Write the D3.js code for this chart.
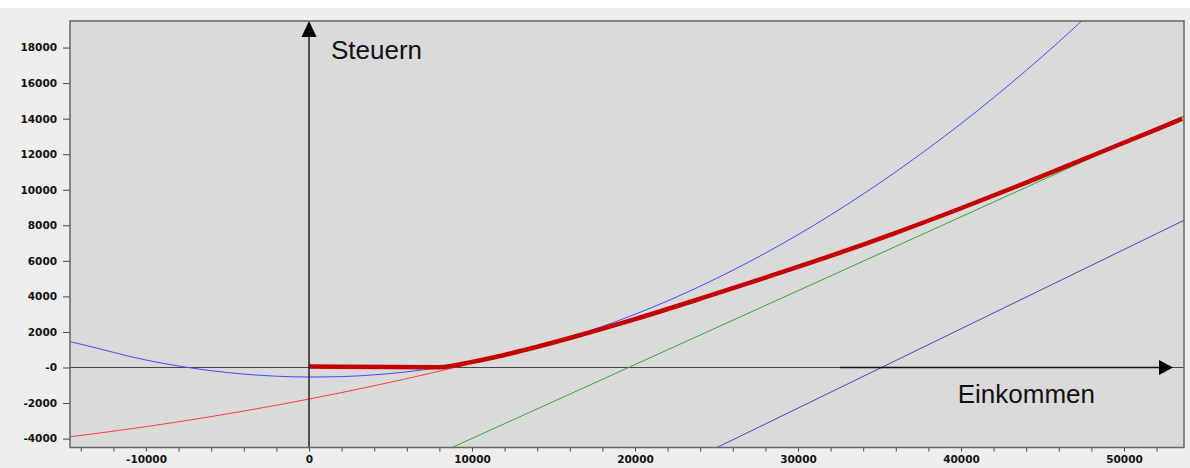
<!DOCTYPE html>
<html>
<head>
<meta charset="utf-8">
<title>Steuern / Einkommen</title>
<style>
    body {
        margin: 0;
        padding: 0;
        background-color: #ffffff;
        overflow: hidden;
    }
    svg {
        display: block;
    }
    .tick text {
        font-family: "DejaVu Sans", Verdana, sans-serif;
        font-weight: bold;
        font-size: 10.5px;
        fill: #111111;
    }
    .tick line {
        stroke: #444444;
    }
    .label {
        font-family: "Liberation Sans", Arial, sans-serif;
        font-size: 26px;
        fill: #111111;
    }
</style>
</head>
<body>
<div id="container"></div>

<script src="https://d3js.org/d3.v7.min.js"></script>
<script>
    // ---- data (Einkommen, Steuern) ----
    var xDomain = [-14663, 53681];
    var yDomain = [-4501, 19494];

    var xTicks = [-14000, -12000, -10000, -8000, -6000, -4000, -2000, 0, 2000, 4000, 6000, 8000,
        10000, 12000, 14000, 16000, 18000, 20000, 22000, 24000, 26000, 28000, 30000, 32000,
        34000, 36000, 38000, 40000, 42000, 44000, 46000, 48000, 50000, 52000];
    var xLabels = [-10000, 0, 10000, 20000, 30000, 40000, 50000];
    var yTicks = [18000, 16000, 14000, 12000, 10000, 8000, 6000, 4000, 2000, 0, -2000, -4000];
    var yTickLabels = ["18000", "16000", "14000", "12000", "10000", "8000", "6000", "4000", "2000", "-0", "-2000", "-4000"];

    // thin blue parabola
    var blueCurve = [[-14663, 1450], [-14000, 1310], [-10000, 420], [-6000, -180], [-2000, -490],
        [0, -536], [2000, -512], [4000, -414], [6000, -244], [8000, 0], [10000, 316], [14000, 1167],
        [18000, 2311], [22000, 3746], [26000, 5470], [30000, 7470], [34000, 9760], [38000, 12330],
        [42000, 15180], [46000, 18320], [48000, 20000]];

    // thin red parabola
    var redCurve = [[-14663, -3900], [-10000, -3328], [-6000, -2762], [-2000, -2123], [0, -1775],
        [4000, -1027], [8000, -205], [12000, 691], [16000, 1659], [20000, 2701], [24000, 3816],
        [28000, 5004], [32000, 6265], [36000, 7600], [40000, 8990], [44000, 10440], [48000, 11960],
        [52000, 13460], [53681, 14080]];

    // straight lines
    var greenLine = [[8773, -4501], [53681, 14160]];
    var purpleLine = [[25031, -4501], [53681, 8280]];

    // thick red: actual tax
    var taxCurve = [[0, 60], [8004, 20], [10000, 316], [12000, 705], [13469, 1038], [16000, 1659],
        [20000, 2720], [24000, 3870], [28000, 5060], [32000, 6280], [36000, 7580], [40000, 8960],
        [44000, 10400], [48000, 11900], [52000, 13400], [53560, 13990]];

    // axis arrows
    var xArrow = [32577, 53006];
    var yArrow = [-4501, 19494];

    // ---- layout ----
    var width = 1190, height = 468;
    var margin = { top: 21, right: 6, bottom: 20.5, left: 70 };
    var plotW = width - margin.left - margin.right;
    var plotH = height - margin.top - margin.bottom;

    var svg = d3.select("div#container")
        .append("svg")
        .attr("width", width)
        .attr("height", height);

    svg.append("rect")
        .attr("x", 0)
        .attr("y", 8)
        .attr("width", width)
        .attr("height", height - 8)
        .style("fill", "#eeeeee");

    var g = svg.append("g")
        .attr("transform", "translate(" + margin.left + "," + margin.top + ")");

    var x = d3.scaleLinear().domain(xDomain).range([0, plotW]);
    var y = d3.scaleLinear().domain(yDomain).range([plotH, 0]);

    g.append("rect")
        .attr("width", plotW)
        .attr("height", plotH)
        .style("fill", "#dadada");

    g.append("clipPath")
        .attr("id", "clip")
        .append("rect")
        .attr("width", plotW)
        .attr("height", plotH);

    // axes
    var yAxis = d3.axisLeft(y)
        .tickValues(yTicks)
        .tickFormat(function (d, i) { return yTickLabels[i]; })
        .tickSize(7)
        .tickPadding(6);
    g.append("g").call(yAxis).call(function (s) { s.select(".domain").remove(); });

    var xAxis = d3.axisBottom(x)
        .tickValues(xTicks)
        .tickFormat(function (d) { return xLabels.indexOf(d) >= 0 ? String(d) : ""; })
        .tickSize(4)
        .tickPadding(4);
    g.append("g")
        .attr("transform", "translate(0," + plotH + ")")
        .call(xAxis)
        .call(function (s) { s.select(".domain").remove(); });

    // zero line
    g.append("line")
        .attr("x1", 0).attr("x2", plotW)
        .attr("y1", y(0)).attr("y2", y(0))
        .style("stroke", "#444444")
        .style("stroke-width", 1);

    var line = d3.line()
        .x(function (d) { return x(d[0]); })
        .y(function (d) { return y(d[1]); })
        .curve(d3.curveMonotoneX);

    var curves = g.append("g").attr("clip-path", "url(#clip)");

    curves.append("path").datum(blueCurve).attr("d", line)
        .style("fill", "none").style("stroke", "#4646ff").style("stroke-width", 1);
    curves.append("path").datum(redCurve).attr("d", line)
        .style("fill", "none").style("stroke", "#ff3a3a").style("stroke-width", 1);
    curves.append("path").datum(greenLine).attr("d", line)
        .style("fill", "none").style("stroke", "#3f9f3f").style("stroke-width", 1);
    curves.append("path").datum(purpleLine).attr("d", line)
        .style("fill", "none").style("stroke", "#4b43b5").style("stroke-width", 1);

    // vertical axis arrow
    g.append("line")
        .attr("x1", x(0)).attr("x2", x(0))
        .attr("y1", y(yArrow[0])).attr("y2", y(yArrow[1]) + 10)
        .style("stroke", "#222222")
        .style("stroke-width", 1.5);
    g.append("path")
        .attr("d", "M" + x(0) + "," + y(yArrow[1]) +
            "L" + (x(0) + 7.5) + "," + (y(yArrow[1]) + 16) +
            "L" + (x(0) - 7.5) + "," + (y(yArrow[1]) + 16) + "Z")
        .style("fill", "#000000");

    // horizontal axis arrow
    g.append("line")
        .attr("x1", x(xArrow[0])).attr("x2", x(xArrow[1]) - 8)
        .attr("y1", y(0)).attr("y2", y(0))
        .style("stroke", "#111111")
        .style("stroke-width", 1.5);
    g.append("path")
        .attr("d", "M" + x(xArrow[1]) + "," + y(0) +
            "L" + (x(xArrow[1]) - 14) + "," + (y(0) - 7.5) +
            "L" + (x(xArrow[1]) - 14) + "," + (y(0) + 7.5) + "Z")
        .style("fill", "#000000");

    // actual tax (thick red)
    curves.append("path").datum(taxCurve).attr("d", line)
        .style("fill", "none").style("stroke", "#c40000").style("stroke-width", 4.5)
        .style("stroke-linejoin", "round");

    // plot border
    g.append("rect")
        .attr("width", plotW)
        .attr("height", plotH)
        .style("fill", "none")
        .style("stroke", "#666666")
        .style("stroke-width", 1.5);

    // labels
    g.append("text").attr("class", "label")
        .attr("x", x(0) + 22).attr("y", 38)
        .text("Steuern");
    g.append("text").attr("class", "label")
        .attr("x", x(39800)).attr("y", y(0) + 35.5)
        .text("Einkommen");
</script>
</body>
</html>
